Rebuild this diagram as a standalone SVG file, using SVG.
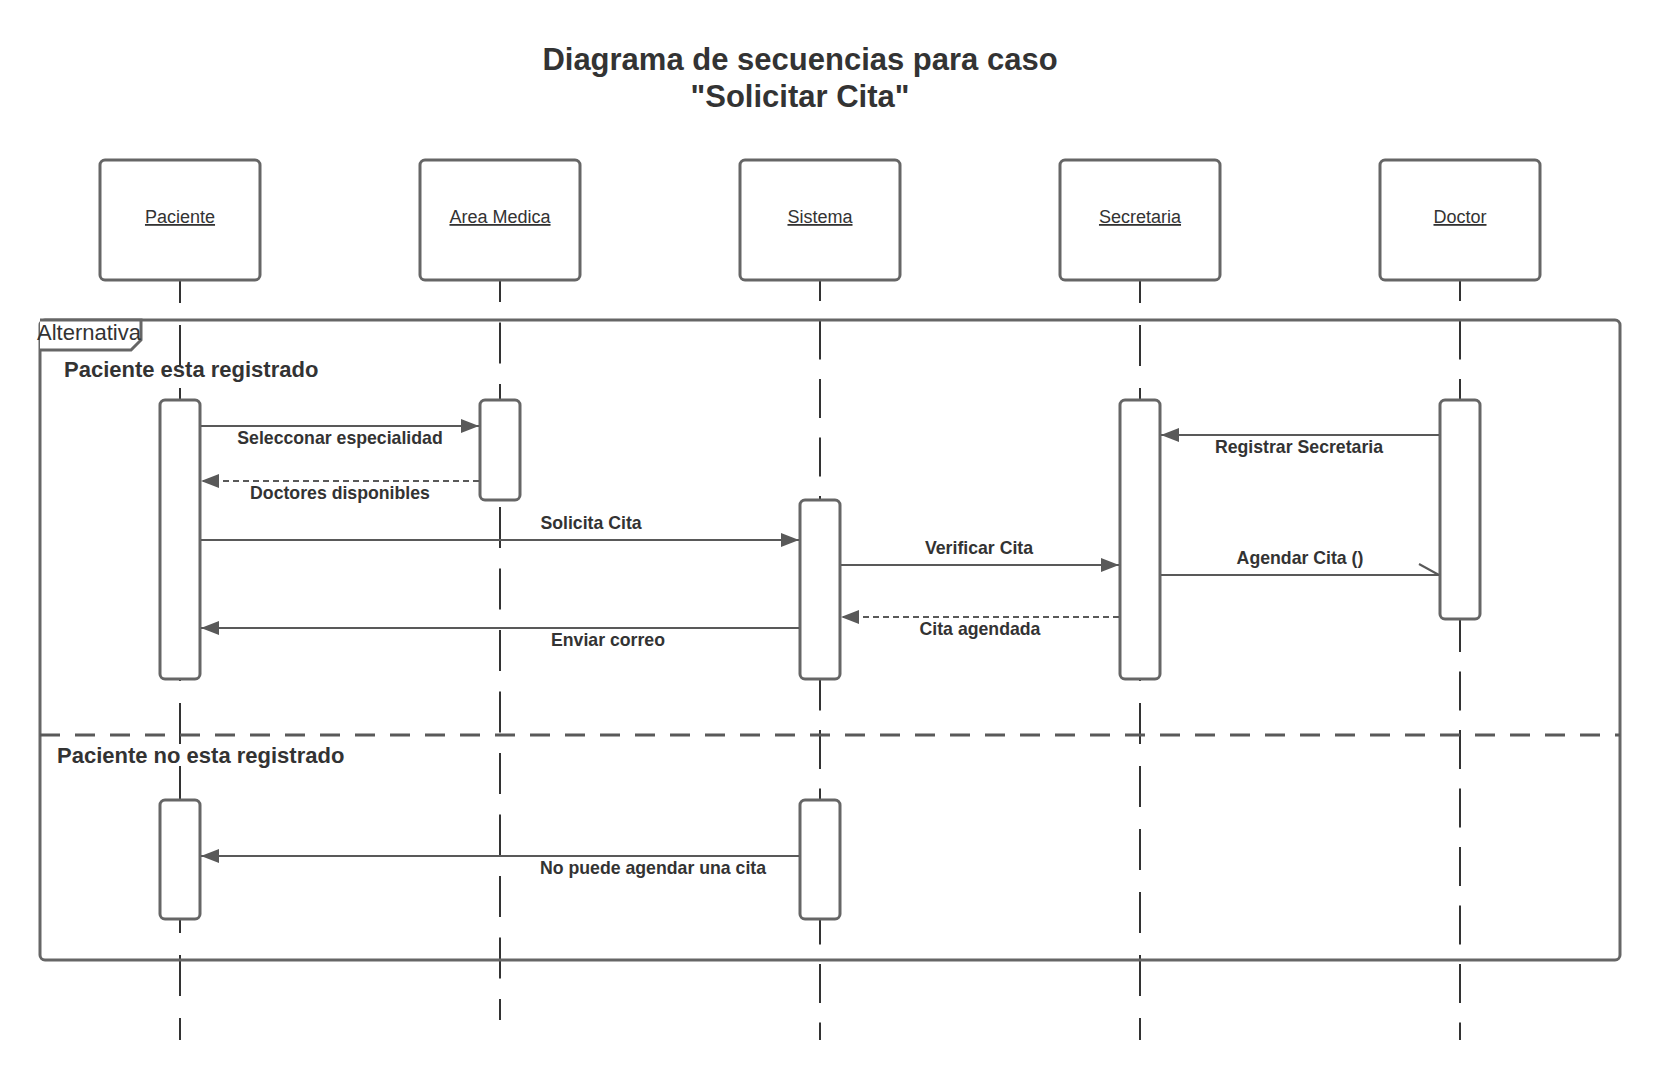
<svg xmlns="http://www.w3.org/2000/svg" width="1660" height="1080" viewBox="0 0 1660 1080">
<style>
.title{font-family:"Liberation Sans",Arial,sans-serif;font-weight:bold;font-size:31px;fill:#333;text-anchor:middle}
.actor rect{fill:#fff;stroke:#666;stroke-width:3}
.actor text{font-family:"Liberation Sans",Arial,sans-serif;font-size:18px;fill:#333;text-anchor:middle;text-decoration:underline}
.life{stroke:#333;stroke-width:2;fill:none}
.bar{fill:#fff;stroke:#666;stroke-width:3}
.frame{fill:none;stroke:#666;stroke-width:3}
.sect{font-family:"Liberation Sans",Arial,sans-serif;font-weight:bold;font-size:22px;fill:#333}
.msg{stroke:#595959;stroke-width:2;fill:none}
.ret{stroke:#595959;stroke-width:2;fill:none;stroke-dasharray:6 4}
.lbl{font-family:"Liberation Sans",Arial,sans-serif;font-weight:bold;font-size:17.7px;fill:#333;text-anchor:middle}
</style>
<defs>
<marker id="arr" markerUnits="userSpaceOnUse" markerWidth="18" markerHeight="14" refX="18" refY="7" orient="auto">
<path d="M0,0 L18,7 L0,14 Z" fill="#595959"/>
</marker>
</defs>
<rect width="1660" height="1080" fill="#fff"/>
<text class="title" x="800" y="70">Diagrama de secuencias para caso</text>
<text class="title" x="800" y="107">"Solicitar Cita"</text>

<g id="lifelines">
<line class="life" x1="180" y1="280" x2="180" y2="1040" stroke-dasharray="41 22" stroke-dashoffset="18"/>
<line class="life" x1="500" y1="280" x2="500" y2="1020" stroke-dasharray="41 20.5" stroke-dashoffset="19"/>
<line class="life" x1="820" y1="280" x2="820" y2="1040" stroke-dasharray="39 19.5" stroke-dashoffset="18"/>
<line class="life" x1="1140" y1="280" x2="1140" y2="1040" stroke-dasharray="41 22" stroke-dashoffset="18"/>
<line class="life" x1="1460" y1="280" x2="1460" y2="1040" stroke-dasharray="39 19.5" stroke-dashoffset="18"/>
</g>

<g id="actor-paciente" class="actor"><rect x="100" y="160" width="160" height="120" rx="5"/><text x="180" y="223">Paciente</text></g>
<g id="actor-area-medica" class="actor"><rect x="420" y="160" width="160" height="120" rx="5"/><text x="500" y="223">Area Medica</text></g>
<g id="actor-sistema" class="actor"><rect x="740" y="160" width="160" height="120" rx="5"/><text x="820" y="223">Sistema</text></g>
<g id="actor-secretaria" class="actor"><rect x="1060" y="160" width="160" height="120" rx="5"/><text x="1140" y="223">Secretaria</text></g>
<g id="actor-doctor" class="actor"><rect x="1380" y="160" width="160" height="120" rx="5"/><text x="1460" y="223">Doctor</text></g>

<g id="frame-alternativa">
<rect class="frame" x="40" y="320" width="1580" height="640" rx="5"/>
<path d="M40,320 L141,320 L141,340 L131,350 L40,350" fill="#fff" stroke="#666" stroke-width="3"/>
<text x="37" y="340" font-family="'Liberation Sans',Arial,sans-serif" font-size="22" fill="#333">Alternativa</text>
<line x1="40" y1="735" x2="1620" y2="735" stroke="#595959" stroke-width="3" stroke-dasharray="20 15"/>
<text class="sect" x="64" y="377">Paciente esta registrado</text>
<text class="sect" x="57" y="763">Paciente no esta registrado</text>
</g>

<g id="activations">
<rect class="bar" x="160" y="400" width="40" height="279" rx="5"/>
<rect class="bar" x="480" y="400" width="40" height="100" rx="5"/>
<rect class="bar" x="800" y="500" width="40" height="179" rx="5"/>
<rect class="bar" x="1120" y="400" width="40" height="279" rx="5"/>
<rect class="bar" x="1440" y="400" width="40" height="219" rx="5"/>
<rect class="bar" x="160" y="800" width="40" height="119" rx="5"/>
<rect class="bar" x="800" y="800" width="40" height="119" rx="5"/>
</g>

<g id="messages">
<line class="msg" x1="201" y1="426" x2="479" y2="426" marker-end="url(#arr)"/>
<text class="lbl" x="340" y="444">Selecconar especialidad</text>
<line class="ret" x1="479" y1="481" x2="201" y2="481" marker-end="url(#arr)"/>
<text class="lbl" x="340" y="499">Doctores disponibles</text>
<line class="msg" x1="201" y1="540" x2="799" y2="540" marker-end="url(#arr)"/>
<text class="lbl" x="591" y="529">Solicita Cita</text>
<line class="msg" x1="841" y1="565" x2="1119" y2="565" marker-end="url(#arr)"/>
<text class="lbl" x="979" y="554">Verificar Cita</text>
<line class="ret" x1="1119" y1="617" x2="841" y2="617" marker-end="url(#arr)"/>
<text class="lbl" x="980" y="635">Cita agendada</text>
<line class="msg" x1="799" y1="628" x2="201" y2="628" marker-end="url(#arr)"/>
<text class="lbl" x="608" y="646">Enviar correo</text>
<line class="msg" x1="1439" y1="435" x2="1161" y2="435" marker-end="url(#arr)"/>
<text class="lbl" x="1299" y="453">Registrar Secretaria</text>
<line class="msg" x1="1161" y1="575" x2="1439" y2="575"/>
<line class="msg" x1="1419" y1="564" x2="1439" y2="575"/>
<text class="lbl" x="1300" y="564">Agendar Cita ()</text>
<line class="msg" x1="799" y1="856" x2="201" y2="856" marker-end="url(#arr)"/>
<text class="lbl" x="653" y="874">No puede agendar una cita</text>
</g>
</svg>
